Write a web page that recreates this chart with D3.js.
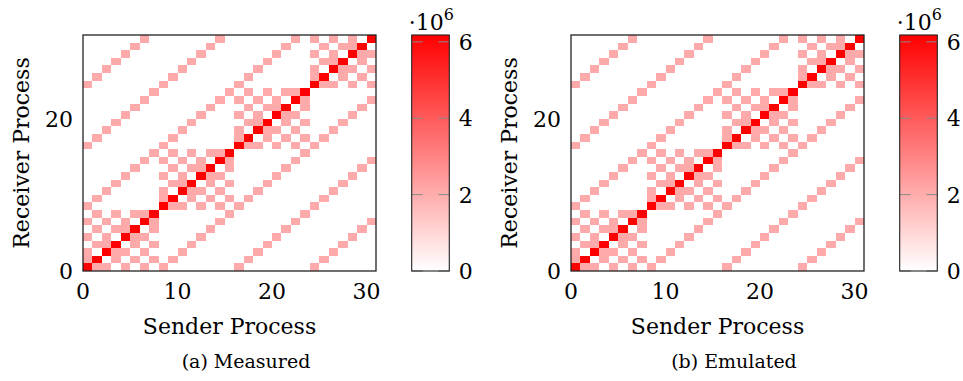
<html>
<head>
<meta charset="utf-8">
<style>
    body {
        margin: 0px;
        background: white;
    }
</style>
</head>
<body>
<svg id="viz" width="963" height="381"></svg>

<script src="https://d3js.org/d3.v7.min.js"></script>
<script>
// communication matrix, one string per receiver (row 0 = bottom), one char per sender
// "." = nothing, "p" = light pink cell, "R" = full red cell; spaces only split the 8-process groups
var measuredRows = [
    "Rpp.p.p. p....... p....... p......",
    "pR.p.p.p .p...... .p...... .p.....",
    "p.Rpp.p. ..p..... ..p..... ..p....",
    ".ppR.p.p ...p.... ...p.... ...p...",
    "p.p.Rpp. ....p... ....p... ....p..",
    ".p.ppR.p .....p.. .....p.. .....p.",
    "p.p.p.Rp ......p. ......p. ......p",
    ".p.p.ppR .......p .......p .......",
    "p....... Rpp.p.p. p....... p......",
    ".p...... pR.p.p.p .p...... .p.....",
    "..p..... p.Rpp.p. ..p..... ..p....",
    "...p.... .ppR.p.p ...p.... ...p...",
    "....p... p.p.Rpp. ....p... ....p..",
    ".....p.. .p.ppR.p .....p.. .....p.",
    "......p. p.p.p.Rp ......p. ......p",
    ".......p .p.p.ppR .......p .......",
    "p....... p....... Rpp.p.p. p......",
    ".p...... .p...... pR.p.p.p .p.....",
    "..p..... ..p..... p.Rpp.p. ..p....",
    "...p.... ...p.... .ppR.p.p ...p...",
    "....p... ....p... p.p.Rpp. ....p..",
    ".....p.. .....p.. .p.ppR.p .....p.",
    "......p. ......p. p.p.p.Rp ......p",
    ".......p .......p .p.p.ppR .......",
    "p....... p....... p....... Rpp.p.p",
    ".p...... .p...... .p...... pR.p.p.",
    "..p..... ..p..... ..p..... p.Rpp.p",
    "...p.... ...p.... ...p.... .ppR.p.",
    "....p... ....p... ....p... p.p.Rpp",
    ".....p.. .....p.. .....p.. .p.ppR.",
    "......p. ......p. ......p. p.p.p.R"
];

// the emulated run reads the same cell for cell
var emulatedRows = measuredRows.slice();

var cellValue = {".": 0, "p": 2.06e6, "R": 6.18e6};

var titles = ["(a) Measured", "(b) Emulated"];
var xTicks = [0, 10, 20, 30];
var yTicks = [0, 20];
var colorTicks = [0, 2, 4, 6];   // x10^6
var colorMax = 6.18e6;

// layout
var panelLeft = [83, 571];
var plotW = 293;
var plotTop = 35;
var plotBottom = 271;
var cbOffset = 328.7;   // colour bar left, relative to plot left
var cbW = 37.6;
var serif = "DejaVu Serif";

var svg = d3.select("#viz");

var color = d3.scaleLinear().domain([0, colorMax]).range(["#ffffff", "#ff0000"]);

var grad = svg.append("defs").append("linearGradient")
    .attr("id", "cbgrad")
    .attr("x1", 0).attr("y1", 1).attr("x2", 0).attr("y2", 0);
d3.range(0, 1.0001, 0.1).forEach(function(t) {
    grad.append("stop").attr("offset", t).attr("stop-color", color(t * colorMax));
});

function label(g, size) {
    return g.append("text")
        .style("font-family", serif)
        .style("font-size", size + "px")
        .attr("fill", "black");
}

function drawPanel(rows, title, left) {
    var g = svg.append("g");
    var x = d3.scaleLinear().domain([0, 31]).range([left, left + plotW]);
    var y = d3.scaleLinear().domain([0, 31]).range([plotBottom, plotTop]);

    var cells = [];
    rows.forEach(function(r, j) {
        r.replace(/ /g, "").split("").forEach(function(ch, i) {
            if (cellValue[ch] > 0) cells.push({sender: i, receiver: j, value: cellValue[ch]});
        });
    });

    g.append("rect")
        .attr("x", left).attr("y", plotTop)
        .attr("width", plotW).attr("height", plotBottom - plotTop)
        .attr("fill", "white");

    g.append("g").selectAll("rect")
        .data(cells)
        .enter()
        .append("rect")
        .attr("x", function(d) { return x(d.sender); })
        .attr("width", function(d) { return x(d.sender + 1) - x(d.sender); })
        .attr("y", function(d) { return y(d.receiver + 1); })
        .attr("height", function(d) { return y(d.receiver) - y(d.receiver + 1); })
        .attr("fill", function(d) { return color(d.value); })
        .attr("shape-rendering", "crispEdges");

    g.append("rect")
        .attr("x", left).attr("y", plotTop)
        .attr("width", plotW).attr("height", plotBottom - plotTop)
        .attr("fill", "none")
        .attr("stroke", "#222")
        .attr("stroke-width", 1.3);

    xTicks.forEach(function(t) {
        label(g, 22)
            .attr("x", x(t))
            .attr("y", 299)
            .attr("text-anchor", "middle")
            .text(t);
    });

    yTicks.forEach(function(t) {
        label(g, 22)
            .attr("x", left - 10)
            .attr("y", y(t) + 8)
            .attr("text-anchor", "end")
            .text(t);
    });

    label(g, 22)
        .attr("x", left + plotW / 2)
        .attr("y", 334)
        .attr("text-anchor", "middle")
        .text("Sender Process");

    label(g, 22)
        .attr("transform", "translate(" + (left - 54) + "," + ((plotTop + plotBottom) / 2) + ") rotate(-90)")
        .attr("text-anchor", "middle")
        .text("Receiver Process");

    label(g, 19)
        .attr("x", left + 163)
        .attr("y", 368)
        .attr("text-anchor", "middle")
        .text(title);

    // colour bar
    var cbx = left + cbOffset;
    var cb = d3.scaleLinear().domain([0, colorMax / 1e6]).range([plotBottom, plotTop]);

    g.append("rect")
        .attr("x", cbx).attr("y", plotTop)
        .attr("width", cbW).attr("height", plotBottom - plotTop)
        .attr("fill", "url(#cbgrad)");

    colorTicks.forEach(function(t) {
        g.append("line")
            .attr("x1", cbx).attr("x2", cbx + 11)
            .attr("y1", cb(t)).attr("y2", cb(t))
            .attr("stroke", "#888").attr("stroke-width", 1);
        g.append("line")
            .attr("x1", cbx + cbW - 11).attr("x2", cbx + cbW)
            .attr("y1", cb(t)).attr("y2", cb(t))
            .attr("stroke", "#888").attr("stroke-width", 1);
    });

    g.append("rect")
        .attr("x", cbx).attr("y", plotTop)
        .attr("width", cbW).attr("height", plotBottom - plotTop)
        .attr("fill", "none")
        .attr("stroke", "#222")
        .attr("stroke-width", 1.1);

    colorTicks.forEach(function(t) {
        label(g, 22)
            .attr("x", cbx + 47)
            .attr("y", cb(t) + 8)
            .text(t);
    });

    var mult = label(g, 22)
        .attr("x", cbx - 3)
        .attr("y", 30);
    mult.append("tspan").text("\u00b710");
    mult.append("tspan").attr("dy", -10).style("font-size", "16px").text("6");
}

drawPanel(measuredRows, titles[0], panelLeft[0]);
drawPanel(emulatedRows, titles[1], panelLeft[1]);
</script>
</body>
</html>
